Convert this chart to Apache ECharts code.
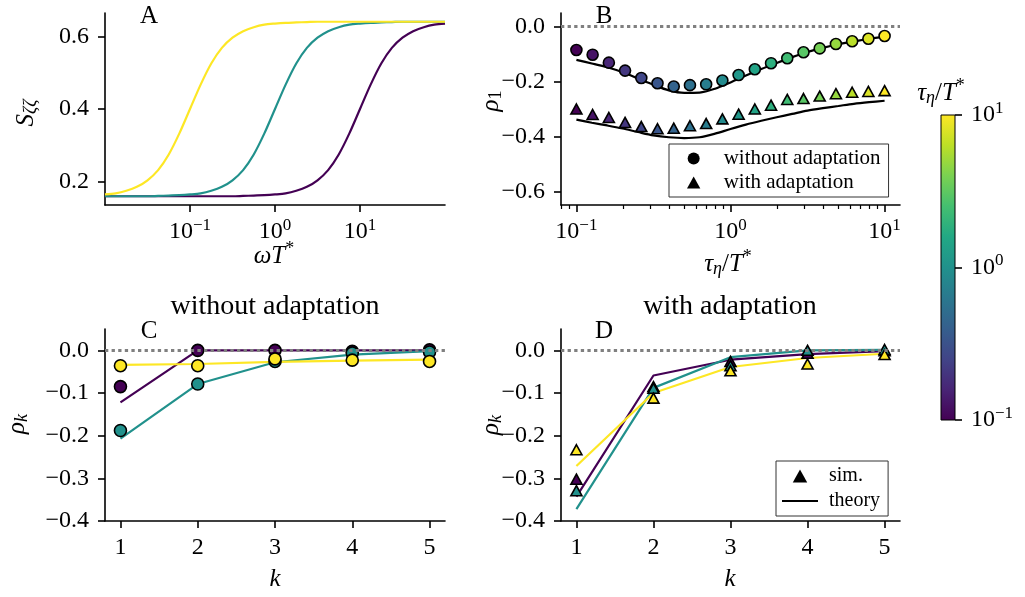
<!DOCTYPE html>
<html>
<head>
<meta charset="utf-8">
<script src="https://cdn.jsdelivr.net/npm/echarts@6/dist/echarts.min.js"></script>
<style>
  html, body { margin: 0; padding: 0; background: #fff; }
  #chart { width: 1025px; height: 597px; }
</style>
</head>
<body>
<div id="chart"></div>
<script>
// ---------- Panel A: spectra S_ζζ(ω) for three values of τ_η/T* ----------
const omega = [0.01, 0.01334, 0.01778, 0.02371, 0.03162, 0.04217, 0.05623, 0.07499,
  0.1, 0.1334, 0.1778, 0.2371, 0.3162, 0.4217, 0.5623, 0.7499,
  1, 1.334, 1.778, 2.371, 3.162, 4.217, 5.623, 7.499,
  10, 13.34, 17.78, 23.71, 31.62, 42.17, 56.23, 74.99, 100];
const specTau10 = [0.165, 0.168, 0.175, 0.186, 0.204, 0.232, 0.275, 0.333, 0.400, 0.467, 0.525,
  0.568, 0.596, 0.614, 0.625, 0.632, 0.635, 0.637, 0.638, 0.639,
  0.640, 0.640, 0.640, 0.640, 0.640, 0.640, 0.640, 0.640, 0.640, 0.640, 0.640, 0.640, 0.640];
const specTau1 = [0.160, 0.160, 0.160, 0.160, 0.160, 0.161, 0.162, 0.163, 0.165, 0.168, 0.175,
  0.186, 0.204, 0.232, 0.275, 0.333, 0.400, 0.467, 0.525, 0.568, 0.596, 0.614, 0.625,
  0.632, 0.635, 0.637, 0.638, 0.639, 0.640, 0.640, 0.640, 0.640, 0.640];
const specTau01 = [0.160, 0.160, 0.160, 0.160, 0.160, 0.160, 0.160, 0.160, 0.160, 0.160, 0.160,
  0.160, 0.160, 0.161, 0.162, 0.163, 0.165, 0.168, 0.175, 0.186, 0.204, 0.232, 0.275,
  0.333, 0.400, 0.467, 0.525, 0.568, 0.596, 0.614, 0.625, 0.632, 0.635];

// ---------- Panel B: serial correlation ρ1 vs τ_η/T* ----------
const tauSim = [0.1, 0.1274, 0.1624, 0.2069, 0.2637, 0.336, 0.4281, 0.5456, 0.6952, 0.8859,
  1.1288, 1.4384, 1.833, 2.3357, 2.9764, 3.7927, 4.8329, 6.1585, 7.8476, 10];
const rho1Without = [-0.085, -0.102, -0.131, -0.160, -0.187, -0.206, -0.218, -0.213, -0.210, -0.196,
  -0.176, -0.155, -0.133, -0.115, -0.093, -0.079, -0.063, -0.053, -0.044, -0.034];
const rho1With = [-0.300, -0.320, -0.331, -0.349, -0.364, -0.372, -0.370, -0.361, -0.353, -0.336,
  -0.319, -0.300, -0.286, -0.265, -0.262, -0.253, -0.244, -0.239, -0.236, -0.233];
const tauTheory = [0.1, 0.1259, 0.1585, 0.1995, 0.2512, 0.3162, 0.3981, 0.5012, 0.631, 0.7943,
  1, 1.2589, 1.5849, 1.9953, 2.5119, 3.1623, 3.9811, 5.0119, 6.3096, 7.9433, 10];
const theoryWithout = [-0.121, -0.134, -0.148, -0.166, -0.189, -0.212, -0.232, -0.241, -0.240, -0.226,
  -0.203, -0.178, -0.154, -0.132, -0.111, -0.092, -0.077, -0.064, -0.054, -0.044, -0.036];
const theoryWith = [-0.339, -0.350, -0.360, -0.371, -0.384, -0.396, -0.403, -0.406, -0.403, -0.390,
  -0.373, -0.357, -0.343, -0.330, -0.318, -0.306, -0.297, -0.289, -0.281, -0.275, -0.270];

// ---------- Panels C and D: ρk vs lag k ----------
const lags = [1, 2, 3, 4, 5];
const cSim = {
  tau01: [-0.085, 0.000, 0.000, -0.002, 0.001],
  tau1:  [-0.188, -0.079, -0.026, -0.006, -0.004],
  tau10: [-0.036, -0.036, -0.020, -0.023, -0.026]
};
const cTheory = {
  tau01: [-0.122, 0.000, 0.000, 0.000, 0.000],
  tau1:  [-0.207, -0.079, -0.028, -0.010, -0.002],
  tau10: [-0.034, -0.032, -0.027, -0.024, -0.022]
};
const dSim = {
  tau01: [-0.302, -0.085, -0.026, -0.007, -0.001],
  tau1:  [-0.329, -0.089, -0.036, 0.000, 0.002],
  tau10: [-0.233, -0.112, -0.048, -0.032, -0.010]
};
const dTheory = {
  tau01: [-0.343, -0.059, -0.022, -0.009, -0.002],
  tau1:  [-0.372, -0.088, -0.016, 0.000, 0.001],
  tau10: [-0.271, -0.100, -0.039, -0.018, -0.008]
};

// tick positions
const specTicks = [0.2, 0.4, 0.6];
const rho1Ticks = [-0.6, -0.4, -0.2, 0];
const rhoKTicks = [-0.4, -0.3, -0.2, -0.1, 0];
const decadeTicks = [0.1, 1, 10];
const minorLogTicks = [0.08, 0.09, 0.2, 0.3, 0.4, 0.5, 0.6, 0.7, 0.8, 0.9, 2, 3, 4, 5, 6, 7, 8, 9];

// ---------- styling ----------
const SERIF = "'Liberation Serif', 'DejaVu Serif', serif";
const VIRIDIS = ['#440154', '#482475', '#414487', '#355f8d', '#2a788e', '#21918c',
  '#22a884', '#44bf70', '#7ad151', '#bddf26', '#fde725'];
const C_LOW = '#440154', C_MID = '#21918c', C_HIGH = '#fde725';
const TICK = 24;
// legend glyphs drawn as paths so that they keep their aspect ratio
const ICON_TRIANGLE = 'path://M5,0L10,9L0,9Z';
const ICON_LINE = 'path://M0,0L34,0L34,2L0,2Z';

function isObj(o) { return o && typeof o === 'object' && !Array.isArray(o); }
function merge(a, b) {
  const out = Object.assign({}, a);
  for (const k in b) out[k] = (isObj(a[k]) && isObj(b[k])) ? merge(a[k], b[k]) : b[k];
  return out;
}
const axisBase = {
  axisLine: { show: true, onZero: false, lineStyle: { color: '#000', width: 1.6 } },
  axisTick: { show: true, inside: false, length: 7, lineStyle: { color: '#000', width: 1.6 } },
  axisLabel: { color: '#000', fontFamily: SERIF, fontSize: TICK, margin: 16 },
  splitLine: { show: false }
};
const axis = extra => merge(axisBase, extra);

const numLabel = v => (v < 0 ? '\u2212' : '') + Math.abs(v).toFixed(1);
const powLabel = v => {
  const e = Math.round(Math.log10(v));
  return '{b|10}{s|' + (e < 0 ? '\u2212' + (-e) : String(e)) + '}';
};
const POW_RICH = {
  b: { fontFamily: SERIF, fontSize: TICK, color: '#000' },
  s: { fontFamily: SERIF, fontSize: 17, color: '#000', padding: [0, 0, 13, 0] }
};

function mathRich(size) {
  const small = Math.round(size * 0.7);
  return {
    i: { fontFamily: SERIF, fontStyle: 'italic', fontSize: size, fill: '#000', color: '#000' },
    r: { fontFamily: SERIF, fontSize: size, fill: '#000', color: '#000' },
    si: { fontFamily: SERIF, fontStyle: 'italic', fontSize: small, fill: '#000', color: '#000', padding: [Math.round(size * 0.45), 0, 0, 0] },
    sr: { fontFamily: SERIF, fontSize: small, fill: '#000', color: '#000', padding: [Math.round(size * 0.45), 0, 0, 0] },
    su: { fontFamily: SERIF, fontSize: small, fill: '#000', color: '#000', padding: [0, 0, Math.round(size * 0.55), 0] }
  };
}
function textEl(x, y, text, size, vertical) {
  return {
    type: 'text', x: x, y: y, rotation: vertical ? Math.PI / 2 : 0, silent: true,
    style: {
      text: text, fill: '#000', fontFamily: SERIF, fontSize: size,
      align: 'center', verticalAlign: 'middle', textAlign: 'center', textVerticalAlign: 'middle',
      rich: mathRich(size)
    }
  };
}

const pairs = (xs, ys) => xs.map((x, i) => [x, ys[i]]);
const zeroLine = {
  silent: true, symbol: 'none', label: { show: false },
  lineStyle: { type: [3.3, 3.3], color: '#808080', width: 3 },
  data: [{ yAxis: 0 }]
};

function lineSeries(xi, yi, data, color, extra) {
  return Object.assign({
    type: 'line', xAxisIndex: xi, yAxisIndex: yi, data: data, showSymbol: false, symbol: 'none',
    lineStyle: { color: color, width: 2.2 }, itemStyle: { color: color }, z: 2
  }, extra || {});
}
function markerSeries(xi, yi, data, color, symbol, size, extra) {
  return Object.assign({
    type: 'scatter', xAxisIndex: xi, yAxisIndex: yi, data: data, symbol: symbol, symbolSize: size,
    itemStyle: { color: color, borderColor: '#000', borderWidth: 1.6, opacity: 1 }, z: 4
  }, extra || {});
}

const series = [
  // A
  lineSeries(0, 0, pairs(omega, specTau01), C_LOW, { smooth: 0.3 }),
  lineSeries(0, 0, pairs(omega, specTau1), C_MID, { smooth: 0.3 }),
  lineSeries(0, 0, pairs(omega, specTau10), C_HIGH, { smooth: 0.3 }),
  // B theory
  lineSeries(1, 1, pairs(tauTheory, theoryWithout), '#000', { smooth: 0.3, markLine: zeroLine }),
  lineSeries(1, 1, pairs(tauTheory, theoryWith), '#000', { smooth: 0.3 }),
  // B simulations, coloured by log10(τ_η/T*)
  markerSeries(1, 1, tauSim.map((t, i) => [t, rho1Without[i], Math.log10(t)]), '#000', 'circle', 11,
    { name: 'without adaptation' }),
  markerSeries(1, 1, tauSim.map((t, i) => [t, rho1With[i], Math.log10(t)]), '#000', 'triangle', [11, 10],
    { name: 'with adaptation' }),
  // C
  lineSeries(3, 2, pairs(lags, cTheory.tau01), C_LOW, { markLine: zeroLine }),
  lineSeries(3, 2, pairs(lags, cTheory.tau1), C_MID),
  lineSeries(3, 2, pairs(lags, cTheory.tau10), C_HIGH),
  markerSeries(3, 2, pairs(lags, cSim.tau01), C_LOW, 'circle', 12),
  markerSeries(3, 2, pairs(lags, cSim.tau1), C_MID, 'circle', 12),
  markerSeries(3, 2, pairs(lags, cSim.tau10), C_HIGH, 'circle', 12),
  // D
  lineSeries(4, 3, pairs(lags, dTheory.tau01), C_LOW, { markLine: zeroLine }),
  lineSeries(4, 3, pairs(lags, dTheory.tau1), C_MID),
  lineSeries(4, 3, pairs(lags, dTheory.tau10), C_HIGH),
  markerSeries(4, 3, pairs(lags, dSim.tau01), C_LOW, 'triangle', [11, 10]),
  markerSeries(4, 3, pairs(lags, dSim.tau1), C_MID, 'triangle', [11, 10]),
  markerSeries(4, 3, pairs(lags, dSim.tau10), C_HIGH, 'triangle', [11, 10]),
  // legend entries for panel D
  markerSeries(4, 3, [], '#000', 'triangle', [13, 12], { name: 'sim.' }),
  lineSeries(4, 3, [], '#000', { name: 'theory' })
];

const option = {
  animation: false,
  backgroundColor: '#fff',
  textStyle: { fontFamily: SERIF, color: '#000' },
  grid: [
    { left: 105, top: 13, width: 340, height: 192 },
    { left: 561, top: 13, width: 339, height: 192 },
    { left: 105, top: 329, width: 340, height: 192 },
    { left: 561, top: 329, width: 339, height: 192 },
    {
      left: 941, top: 115, width: 14, height: 305, show: true, borderColor: '#000', borderWidth: 1,
      backgroundColor: {
        type: 'linear', x: 0, y: 1, x2: 0, y2: 0,
        colorStops: VIRIDIS.map((c, i) => ({ offset: i / (VIRIDIS.length - 1), color: c }))
      }
    }
  ],
  xAxis: [
    axis({ gridIndex: 0, type: 'log', min: 0.01, max: 100,
      axisLabel: { customValues: decadeTicks, formatter: powLabel, rich: POW_RICH, margin: 12 },
      axisTick: { customValues: decadeTicks } }),
    axis({ gridIndex: 1, type: 'log', min: Math.pow(10, -1.1), max: Math.pow(10, 1.1),
      axisLabel: { customValues: decadeTicks, formatter: powLabel, rich: POW_RICH, margin: 12 },
      axisTick: { customValues: decadeTicks } }),
    axis({ gridIndex: 1, type: 'log', position: 'bottom', min: Math.pow(10, -1.1), max: Math.pow(10, 1.1),
      axisLine: { show: false }, axisLabel: { show: false },
      axisTick: { customValues: minorLogTicks, length: 4, lineStyle: { width: 1.2 } } }),
    axis({ gridIndex: 2, type: 'value', min: 0.8, max: 5.2,
      axisLabel: { customValues: lags, formatter: v => String(v), margin: 15 },
      axisTick: { customValues: lags } }),
    axis({ gridIndex: 3, type: 'value', min: 0.8, max: 5.2,
      axisLabel: { customValues: lags, formatter: v => String(v), margin: 15 },
      axisTick: { customValues: lags } }),
    { gridIndex: 4, type: 'value', show: false, min: 0, max: 1 }
  ],
  yAxis: [
    axis({ gridIndex: 0, type: 'value', min: 0.136, max: 0.664,
      axisLabel: { customValues: specTicks, formatter: numLabel }, axisTick: { customValues: specTicks } }),
    axis({ gridIndex: 1, type: 'value', min: -0.65, max: 0.05,
      axisLabel: { customValues: rho1Ticks, formatter: numLabel }, axisTick: { customValues: rho1Ticks } }),
    axis({ gridIndex: 2, type: 'value', min: -0.4, max: 0.05,
      axisLabel: { customValues: rhoKTicks, formatter: numLabel }, axisTick: { customValues: rhoKTicks } }),
    axis({ gridIndex: 3, type: 'value', min: -0.4, max: 0.05,
      axisLabel: { customValues: rhoKTicks, formatter: numLabel }, axisTick: { customValues: rhoKTicks } }),
    axis({ gridIndex: 4, type: 'log', position: 'right', min: 0.09999, max: 10.0001,
      axisLine: { show: false },
      axisLabel: { customValues: decadeTicks, formatter: powLabel, rich: POW_RICH, margin: 16 },
      axisTick: { customValues: decadeTicks } })
  ],
  visualMap: [{
    type: 'continuous', show: false, seriesIndex: [5, 6], dimension: 2, min: -1, max: 1,
    inRange: { color: VIRIDIS }
  }],
  legend: [
    {
      left: 669, top: 144, orient: 'vertical', padding: [4, 8, 4, 18], itemGap: 3,
      itemWidth: 50, itemHeight: 12, borderColor: '#333', borderWidth: 1, backgroundColor: '#fff',
      symbolKeepAspect: true,
      textStyle: { fontFamily: SERIF, fontSize: 21, color: '#000' },
      data: [
        { name: 'without adaptation', icon: 'circle', itemStyle: { color: '#000', borderWidth: 0 } },
        { name: 'with adaptation', icon: ICON_TRIANGLE, itemStyle: { color: '#000', borderWidth: 0 } }
      ]
    },
    {
      left: 776, top: 461, orient: 'vertical', padding: [5, 8, 5, 6], itemGap: 5,
      itemWidth: 36, itemHeight: 13, borderColor: '#333', borderWidth: 1, backgroundColor: '#fff',
      symbolKeepAspect: true,
      textStyle: { fontFamily: SERIF, fontSize: 20, color: '#000', padding: [0, 0, 0, 6] },
      data: [
        { name: 'sim.', icon: ICON_TRIANGLE, itemStyle: { color: '#000', borderWidth: 0 } },
        { name: 'theory', icon: ICON_LINE, itemStyle: { color: '#000', borderWidth: 0 } }
      ]
    }
  ],
  graphic: [
    textEl(149, 16, 'A', 25), textEl(604, 16, 'B', 25),
    textEl(149, 331, 'C', 25), textEl(604, 331, 'D', 25),
    textEl(275, 307, 'without adaptation', 28),
    textEl(730, 307, 'with adaptation', 28),
    textEl(274, 256, '{i|ωT}{su|*}', 25),
    textEl(728, 264, '{i|τ}{si|η}{r|/}{i|T}{su|*}', 25),
    textEl(275, 579, '{i|k}', 25),
    textEl(730, 579, '{i|k}', 25),
    textEl(26, 113, '{i|S}{si|ζζ}', 25, true),
    textEl(491, 101, '{i|ρ}{sr|1}', 25, true),
    textEl(17, 424, '{i|ρ}{si|k}', 25, true),
    textEl(491, 425, '{i|ρ}{si|k}', 25, true),
    textEl(941, 93, '{i|τ}{si|η}{r|/}{i|T}{su|*}', 25)
  ],
  series: series
};

const chart = echarts.init(document.getElementById('chart'));
chart.setOption(option);
</script>
</body>
</html>
